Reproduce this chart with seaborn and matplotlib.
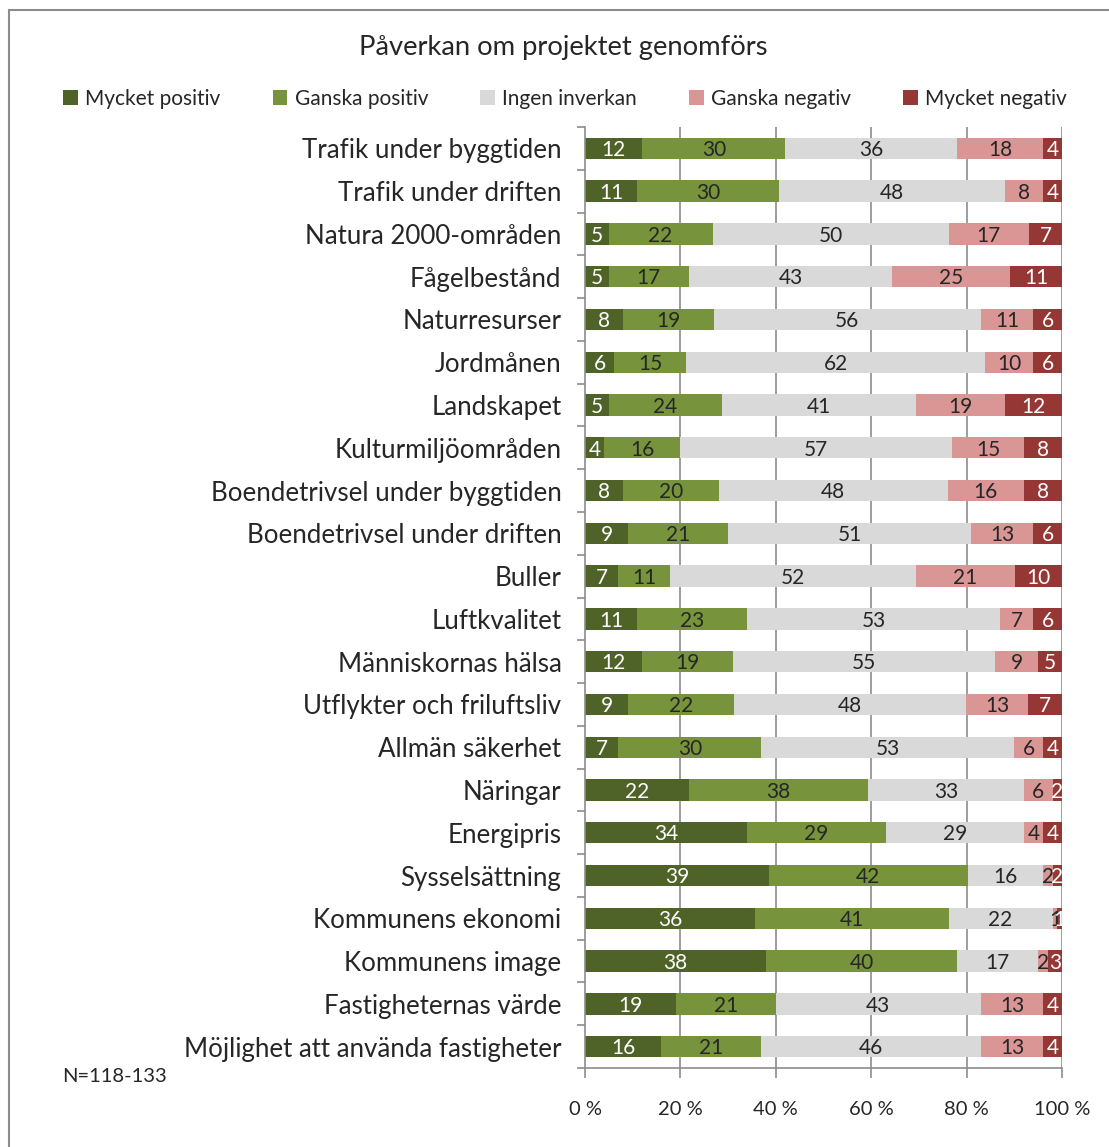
import numpy as np
import pandas as pd
import matplotlib
matplotlib.use("Agg")
import matplotlib.pyplot as plt
import seaborn as sns
from matplotlib.lines import Line2D
from matplotlib.patches import Patch

categories = [
    "Trafik under byggtiden", "Trafik under driften", "Natura 2000-områden",
    "Fågelbestånd", "Naturresurser", "Jordmånen", "Landskapet",
    "Kulturmiljöområden", "Boendetrivsel under byggtiden",
    "Boendetrivsel under driften", "Buller", "Luftkvalitet",
    "Människornas hälsa", "Utflykter och friluftsliv", "Allmän säkerhet",
    "Näringar", "Energipris", "Sysselsättning", "Kommunens ekonomi",
    "Kommunens image", "Fastigheternas värde",
    "Möjlighet att använda fastigheter",
]
series_names = ["Mycket positiv", "Ganska positiv", "Ingen inverkan",
                "Ganska negativ", "Mycket negativ"]
mycket_positiv = [12, 11, 5, 5, 8, 6, 5, 4, 8, 9, 7, 11, 12, 9, 7, 22, 34, 39, 36, 38, 19, 16]
ganska_positiv = [30, 30, 22, 17, 19, 15, 24, 16, 20, 21, 11, 23, 19, 22, 30, 38, 29, 42, 41, 40, 21, 21]
ingen_inverkan = [36, 48, 50, 43, 56, 62, 41, 57, 48, 51, 52, 53, 55, 48, 53, 33, 29, 16, 22, 17, 43, 46]
ganska_negativ = [18, 8, 17, 25, 11, 10, 19, 15, 16, 13, 21, 7, 9, 13, 6, 6, 4, 2, 1, 2, 13, 13]
mycket_negativ = [4, 4, 7, 11, 6, 6, 12, 8, 8, 6, 10, 6, 5, 7, 4, 2, 4, 2, 1, 3, 4, 4]
tick_labels = ["0 %", "20 %", "40 %", "60 %", "80 %", "100 %"]

colors = ["#4F6228", "#77933C", "#D9D9D9", "#D99694", "#953735"]
text_colors = ["white", "#262626", "#262626", "#262626", "white"]

FONT = ["Lato", "DejaVu Sans"]
sns.set_theme(style="white")
plt.rcParams["font.family"] = FONT

vals = np.array([mycket_positiv, ganska_positiv, ingen_inverkan,
                 ganska_negativ, mycket_negativ], dtype=float)
totals = vals.sum(axis=0)
pct = vals / totals * 100.0
cum = np.cumsum(pct, axis=0)
starts = cum - pct

W, H = 1109, 1147
fig = plt.figure(figsize=(W / 100, H / 100), dpi=100)
ax_left, ax_right = 585 / W, 1062 / W
ax_top, ax_bot = 1 - 127 / H, 1 - 1068 / H
ax = fig.add_axes([ax_left, ax_bot, ax_right - ax_left, ax_top - ax_bot])

# draw layers from the rightmost cumulative to the leftmost so they stack
for i in range(4, -1, -1):
    df = pd.DataFrame({"cat": categories, "val": cum[i]})
    sns.barplot(data=df, x="val", y="cat", orient="h", color=colors[i],
                width=0.5, saturation=1, linewidth=0, ax=ax, errorbar=None,
                order=categories)

ax.set_xlim(0, 100)
ax.set_ylim(len(categories) - 0.5, -0.5)

for i in range(5):
    for j in range(len(categories)):
        ax.text(starts[i, j] + pct[i, j] / 2, j + 0.04, f"{int(vals[i, j])}",
                ha="center", va="center", fontsize=15, color=text_colors[i])

# grid
for x in [20, 40, 60, 80, 100]:
    ax.axvline(x, color="#8C8C8C", lw=1.2, zorder=0)
ax.set_axisbelow(True)

for s in ["top", "right"]:
    ax.spines[s].set_visible(False)
for s in ["left", "bottom"]:
    ax.spines[s].set_visible(True)
    ax.spines[s].set_color("#8C8C8C")
    ax.spines[s].set_linewidth(1.2)

ax.set_xticks([0, 20, 40, 60, 80, 100])
ax.set_xticklabels(tick_labels, fontsize=14.5, color="#262626")
ax.tick_params(axis="x", direction="out", length=7, width=1.2, color="#8C8C8C",
               pad=17, bottom=True)
ax.set_yticks(range(len(categories)))
ax.set_yticklabels(categories, fontsize=18.6, color="#262626")
ax.tick_params(axis="y", which="major", length=0, pad=17)
ax.set_yticks(np.arange(-0.5, len(categories), 1), minor=True)
ax.tick_params(axis="y", which="minor", direction="out", length=6, width=1.2,
               color="#8C8C8C", left=True)
ax.set_xlabel("")
ax.set_ylabel("")

fig.text(563 / W, 1 - 47 / H, "Påverkan om projektet genomförs", ha="center",
         va="center", fontsize=19.7, color="#262626")
fig.text(62 / W, 1 - 1077 / H, "N=118-133", ha="left", va="center",
         fontsize=14.5, color="#262626")

handles = [Patch(facecolor=c, edgecolor="none") for c in colors]
fig.legend(handles, series_names, loc="center left", ncol=5,
           bbox_to_anchor=(55 / W, 1 - 99 / H, 1020 / W, 0), mode="expand",
           frameon=False, fontsize=15, handlelength=0.7, handleheight=0.7,
           handletextpad=0.35, labelcolor="#262626", borderaxespad=0)

# chart frame (top and left edges visible in the reference)
fig.add_artist(Line2D([9 / W, 1.0], [1 - 10 / H, 1 - 10 / H],
                      transform=fig.transFigure, color="#8C8C8C", lw=1.5))
fig.add_artist(Line2D([9 / W, 9 / W], [0.0, 1 - 10 / H],
                      transform=fig.transFigure, color="#8C8C8C", lw=1.5))

fig.savefig("out.png", dpi=100)
